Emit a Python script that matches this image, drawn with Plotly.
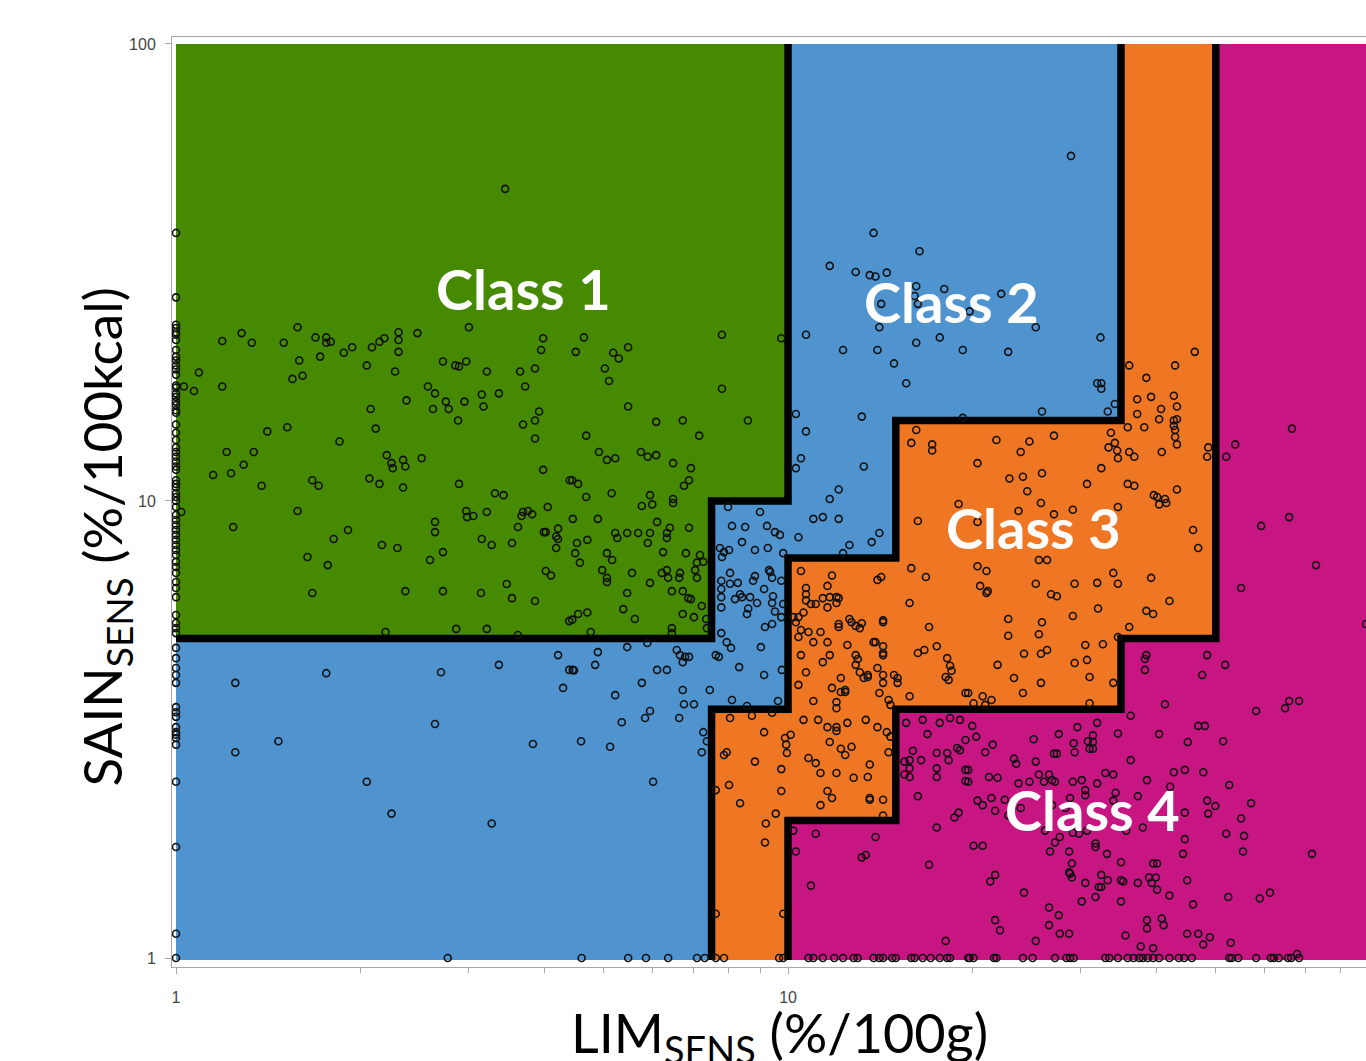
import math
import plotly.graph_objects as go

# ---------------- data ----------------
# class boundaries (LIM in %/100g, SAIN in %/100kcal)
green_x = [1, 7.5, 7.5, 10, 10, 1]
green_y = [5, 5, 10, 10, 100, 100]
blue_x = [1, 7.5, 7.5, 10, 10, 15, 15, 35, 35, 10, 10, 7.5, 7.5, 1]
blue_y = [0.99, 0.99, 3.5, 3.5, 7.5, 7.5, 15, 15, 100, 100, 10, 10, 5, 5]
orange_x = [7.5, 10, 10, 15, 15, 35, 35, 50, 50, 35, 35, 15, 15, 10, 10, 7.5]
orange_y = [0.99, 0.99, 2, 2, 3.5, 3.5, 5, 5, 100, 100, 15, 15, 7.5, 7.5, 3.5, 3.5]
magenta_x = [10, 100, 100, 50, 50, 35, 35, 15, 15, 10]
magenta_y = [0.99, 0.99, 100, 100, 5, 5, 3.5, 3.5, 2, 2]

line1_x = [1, 7.5, 7.5, 10, 10]
line1_y = [5, 5, 10, 10, 100]
line2_x = [7.5, 7.5, 10, 10, 15, 15, 35, 35]
line2_y = [0.99, 3.5, 3.5, 7.5, 7.5, 15, 15, 100]
line3_x = [10, 10, 15, 15, 35, 35, 50, 50]
line3_y = [0.99, 2, 2, 3.5, 3.5, 5, 5, 100]

# products at LIM = 1 (left edge)
edge_y = [38.6, 27.9, 24.3, 23.9, 23.4, 23.1, 22.5, 21.4, 20.7, 20.3, 19.8, 19.4, 18.9, 17.9, 17.7,
          17.2, 16.9, 16.5, 16.2, 15.8, 15.6, 14.7, 14.1, 13.6, 13.1, 12.8, 12.5, 12.2, 11.9, 11.7,
          11.1, 10.9, 10.7, 10.4, 10.2, 10.0, 9.70, 9.32, 9.09, 8.86, 8.64, 8.43, 8.22, 8.01, 7.81,
          7.62, 7.36, 7.17, 6.96, 6.65, 6.45, 6.16, 5.63, 5.41, 5.27, 5.14,
          4.77, 4.53, 4.31, 4.16, 4.00, 3.54, 3.45, 3.37, 3.20, 3.12, 3.08, 3.03, 2.93, 2.43, 1.75,
          1.13, 1.0]
edge_x = [1] * len(edge_y)

class1_pts = [
    (3.45, 48.2), (1.03, 17.8), (1.07, 17.4), (1.09, 19.1), (1.19, 22.4), (1.19, 17.8), (1.28, 23.3),
    (1.33, 22.2), (1.15, 11.4), (1.21, 12.8), (1.23, 11.5), (1.29, 12.0), (1.34, 12.8), (1.38, 10.8),
    (1.41, 14.2), (1.50, 22.2), (1.52, 14.5), (1.55, 18.5), (1.58, 24.0), (1.59, 20.3), (1.61, 18.8),
    (1.67, 11.1), (1.71, 10.8), (1.69, 22.8), (1.72, 20.7), (1.76, 22.8), (1.76, 22.2), (1.79, 22.3),
    (1.85, 13.5), (1.88, 21.1), (1.94, 21.7), (2.05, 19.8), (2.07, 11.2), (2.08, 15.9), (2.09, 21.7),
    (2.12, 14.4), (2.15, 10.9), (2.15, 22.3), (2.19, 22.7), (2.21, 12.6), (2.25, 12.1), (2.26, 11.8),
    (2.28, 19.2), (2.31, 23.4), (2.31, 22.5), (2.31, 21.2), (2.35, 12.3), (2.35, 10.7), (2.37, 11.9),
    (2.38, 16.6), (2.48, 23.3), (2.52, 12.4), (2.58, 17.8), (2.63, 15.9), (2.65, 17.2), (2.73, 20.2),
    (2.76, 16.5), (2.79, 15.9), (2.86, 19.8), (2.89, 15.0), (2.90, 19.7), (2.90, 10.9), (2.96, 16.5),
    (2.98, 20.2), (3.01, 24.0), (3.16, 17.1), (3.18, 16.1), (3.22, 19.2), (3.32, 10.4), (3.43, 10.3),
    (3.37, 17.2), (3.65, 19.2), (3.69, 14.7), (3.72, 17.8), (3.86, 19.5), (3.86, 15.0), (3.86, 13.7),
    (3.92, 15.7), (3.95, 21.4), (3.98, 22.7), (3.98, 11.7), (4.40, 11.1),
    (4.64, 22.8), (4.50, 21.2), (5.18, 21.1), (5.29, 20.5), (5.48, 21.7), (5.02, 19.5), (5.10, 18.3),
    (5.48, 16.1), (6.09, 14.9), (6.73, 15.0), (7.16, 13.9), (7.80, 23.1), (7.80, 17.6), (8.60, 15.0),
    (9.75, 22.7), (4.68, 13.9), (4.91, 12.8), (5.06, 12.3), (5.22, 12.4), (5.75, 12.8), (5.90, 12.5),
    (6.09, 12.6), (6.49, 12.1), (6.94, 11.8), (6.89, 11.1), (6.76, 10.8), (4.44, 11.1), (4.54, 10.9),
    (5.15, 10.4), (5.95, 10.3), (4.68, 10.2), (6.49, 10.1),
    (1.02, 9.46), (1.24, 8.77), (1.58, 9.51), (1.64, 7.54), (1.67, 6.29), (1.77, 7.24), (1.81, 8.26),
    (1.91, 8.64), (2.17, 8.01), (2.20, 5.17), (2.30, 7.89), (2.37, 6.35), (2.60, 7.43), (2.65, 9.00),
    (2.65, 8.55), (2.73, 7.73), (2.73, 6.35), (2.87, 5.25), (2.98, 9.51), (2.99, 9.22), (3.06, 9.27),
    (3.16, 8.26), (3.22, 9.46), (3.15, 6.29), (3.22, 5.25), (3.28, 8.01), (3.47, 6.58), (3.54, 8.09),
    (3.54, 6.13), (3.62, 8.77), (3.62, 5.09), (3.67, 9.27), (3.76, 9.51), (3.82, 9.35), (3.69, 9.46),
    (3.86, 6.04), (4.02, 7.03), (4.10, 6.87), (4.05, 9.70), (3.99, 8.55), (4.02, 8.55), (4.18, 8.36),
    (4.21, 8.26), (4.21, 8.70), (4.18, 7.89), (4.39, 5.46),
    (5.77, 9.75), (6.00, 9.83), (6.49, 9.90), (4.45, 9.14), (4.89, 9.14), (5.22, 8.51), (5.26, 8.30),
    (5.46, 8.51), (5.69, 8.51), (5.95, 8.51), (6.11, 9.00), (6.34, 8.51), (6.34, 8.30), (6.41, 8.74),
    (6.89, 8.74), (5.90, 8.09), (4.52, 8.09), (4.49, 7.69), (4.57, 7.33), (4.70, 8.22), (5.06, 7.69),
    (5.16, 7.43), (6.25, 7.73), (6.81, 7.69), (7.18, 7.62), (7.10, 7.33), (7.27, 7.36), (4.97, 7.06),
    (5.56, 6.96), (5.06, 6.79), (5.06, 6.65), (5.95, 6.62), (6.22, 6.96), (6.34, 7.06), (6.37, 6.79),
    (6.66, 6.96), (6.64, 6.79), (7.10, 6.79), (7.05, 7.06), (5.46, 6.29), (6.46, 6.35), (6.73, 6.35),
    (6.87, 6.13), (6.94, 6.10), (7.23, 5.89), (5.38, 5.80), (4.54, 5.66), (4.70, 5.70), (5.62, 5.52),
    (6.73, 5.66), (7.02, 5.57), (4.44, 5.50), (7.35, 5.52), (4.76, 5.17), (6.46, 5.27), (6.46, 5.14),
    (7.37, 5.27),
]

class2_pts = [
    (13.8, 38.6), (16.4, 35.2), (11.7, 32.7), (29.0, 56.9),
    (10.7, 23.1), (12.3, 21.4), (14.0, 21.4), (14.9, 20.0), (15.6, 18.1), (16.2, 22.2), (17.7, 22.8),
    (19.3, 21.4), (14.1, 24.0), (14.2, 27.0), (16.2, 29.5), (16.1, 28.1), (16.3, 27.0), (18.0, 29.1),
    (12.9, 31.7), (13.6, 31.2), (13.9, 31.0), (14.5, 31.6), (10.3, 15.5), (13.2, 15.3), (10.7, 14.2),
    (10.5, 12.4), (10.3, 11.8), (13.3, 11.9), (12.1, 10.6), (11.7, 10.1),
    (22.3, 28.4), (19.8, 26.0), (25.4, 24.0), (32.4, 22.8), (22.9, 21.2), (32.0, 18.1), (32.5, 18.1),
    (32.5, 17.6), (26.0, 15.7), (33.3, 15.7), (34.2, 16.3),
    (1.25, 4.00), (1.76, 4.20), (2.71, 4.22), (3.37, 4.38), (2.65, 3.25), (4.21, 4.60), (4.29, 3.90),
    (4.39, 4.27),
    (7.98, 9.70), (9.00, 9.46), (8.10, 8.82), (8.51, 8.77), (9.24, 8.82), (8.41, 8.13), (7.74, 7.89),
    (7.86, 7.73), (7.80, 7.54), (8.01, 7.81), (8.83, 7.81), (9.27, 7.89), (9.52, 8.55), (9.70, 8.43),
    (10.4, 8.33), (9.82, 7.69), (8.04, 6.96), (8.28, 6.62), (8.04, 6.59), (8.77, 6.69), (8.83, 6.85),
    (9.35, 6.99), (9.42, 6.79), (9.31, 7.06), (9.75, 6.69), (7.78, 6.69), (7.78, 6.42), (9.14, 6.42),
    (7.78, 6.16), (7.78, 5.85), (8.19, 6.10), (8.41, 6.16), (8.35, 6.25), (8.67, 6.16), (8.90, 5.98),
    (8.61, 5.82), (8.57, 5.66), (9.45, 6.19), (9.42, 5.98), (9.52, 5.73), (9.75, 5.57), (9.82, 5.95),
    (9.42, 5.38), (9.17, 5.30), (7.78, 5.14), (7.94, 4.91), (8.07, 4.77), (7.62, 4.60), (7.71, 4.56),
    (8.32, 4.33), (9.03, 4.79), (9.14, 4.16), (9.77, 4.27), (8.10, 3.67), (8.57, 3.56), (9.63, 3.65),
    (4.89, 4.67), (5.46, 4.79), (5.89, 4.89), (4.84, 4.38), (4.45, 4.27), (4.47, 4.26), (6.11, 4.27),
    (6.34, 4.27), (6.58, 4.72), (6.66, 4.60), (6.79, 4.56), (6.89, 4.56), (6.73, 4.44), (5.77, 4.00),
    (5.22, 3.76), (6.73, 3.86), (7.45, 3.86), (6.76, 3.59), (7.02, 3.59), (5.95, 3.47), (5.84, 3.35),
    (5.35, 3.28), (6.64, 3.35),
    (11.0, 9.14), (11.4, 9.22), (12.1, 9.14), (14.1, 8.51), (13.7, 8.13), (12.6, 8.01), (12.3, 7.69),
    (1.25, 2.82), (1.47, 2.98), (2.05, 2.43), (2.25, 2.07), (2.78, 1.0), (3.28, 1.97), (3.83, 2.94),
    (4.59, 2.98), (5.12, 2.90), (6.02, 2.43), (7.23, 2.82), (7.27, 3.12), (7.37, 2.98), (4.60, 1.0),
    (5.48, 1.0), (5.86, 1.0), (6.37, 1.0), (7.10, 1.0), (7.31, 1.0),
]

class3_pts = [
    (16.2, 14.3), (15.9, 13.4), (17.2, 13.3), (17.2, 12.9), (19.3, 15.2),
    (46.2, 21.2), (36.1, 19.8), (42.9, 19.8), (38.5, 18.6), (37.2, 16.7), (39.2, 16.9), (42.7, 17.0),
    (40.7, 15.9), (43.2, 16.1), (37.2, 15.5), (40.4, 15.1), (43.2, 15.1), (42.7, 15.0), (42.7, 14.6),
    (38.2, 14.5), (35.9, 14.5), (42.9, 14.3), (42.9, 13.8), (43.2, 13.3), (40.8, 12.8), (33.7, 14.1),
    (34.2, 13.4), (33.4, 13.1), (34.5, 12.9), (34.6, 12.4), (36.1, 12.8), (36.8, 12.5), (27.2, 13.9),
    (21.9, 13.6), (24.8, 13.5), (24.0, 12.8), (20.4, 12.1), (23.0, 11.2), (24.2, 11.3), (26.0, 11.5),
    (24.6, 10.5), (32.5, 11.8), (30.8, 10.9), (35.9, 10.9), (36.8, 10.8), (43.2, 10.6), (39.6, 10.3),
    (40.1, 10.2), (41.3, 10.1), (48.6, 13.1), (48.4, 12.5),
    (10.5, 7.03), (11.8, 6.87), (11.6, 6.52), (10.7, 6.45), (10.7, 6.25), (10.7, 6.06), (11.4, 6.13),
    (11.7, 6.16), (12.0, 6.16), (12.1, 6.13), (11.6, 5.85), (12.0, 5.98), (10.9, 5.95), (11.1, 5.95),
    (10.2, 5.57), (10.4, 5.57), (10.6, 5.70), (10.3, 5.43), (10.5, 5.22), (10.8, 5.17), (11.3, 5.17),
    (10.4, 5.04), (11.0, 4.91), (11.6, 4.91), (12.1, 5.38), (12.1, 5.30), (12.6, 5.52), (12.7, 5.43),
    (12.9, 5.33), (13.1, 5.27), (13.2, 5.40), (12.5, 4.84), (13.8, 4.91), (13.9, 4.91), (14.3, 4.81),
    (14.3, 4.65), (14.3, 4.60), (14.3, 5.48), (14.3, 5.43), (12.9, 4.60), (13.0, 4.51), (12.9, 4.38),
    (13.1, 4.22), (10.5, 4.60), (10.7, 4.22), (11.4, 4.44), (11.7, 4.60), (13.3, 4.10), (13.5, 4.16),
    (13.5, 4.12), (12.2, 4.10), (14.0, 4.31), (14.3, 4.16), (14.3, 4.00), (14.9, 4.16), (15.1, 4.10),
    (15.1, 4.00), (10.4, 3.96), (11.8, 3.90), (12.2, 3.82), (12.4, 3.82), (12.4, 3.86), (11.0, 3.65),
    (12.0, 3.63), (12.0, 3.52), (14.1, 3.80), (14.6, 3.67), (14.7, 3.58), (15.8, 3.74), (15.8, 5.98),
    (17.0, 5.30), (17.5, 4.81), (16.3, 4.65), (16.7, 4.72), (18.2, 4.53), (18.4, 4.36), (18.5, 4.25),
    (18.1, 4.12), (18.3, 4.06), (19.5, 3.80), (16.3, 9.04), (16.8, 6.82), (15.9, 7.13), (14.0, 6.72),
    (14.2, 6.82), (19.0, 9.85),
    (8.04, 3.35), (8.73, 3.39), (9.42, 3.44), (10.6, 3.32), (11.2, 3.32), (11.6, 3.20), (12.0, 3.20),
    (12.5, 3.27), (13.4, 3.32), (14.0, 3.20),
    (23.8, 9.51), (25.9, 9.90), (27.2, 9.35), (29.2, 9.57), (34.6, 9.70), (40.4, 9.83), (41.5, 9.90),
    (20.4, 9.00), (45.9, 8.64), (46.8, 7.89), (25.7, 7.43), (26.5, 7.43), (20.4, 7.20), (21.1, 7.03),
    (34.0, 6.96), (39.2, 6.79), (20.6, 6.52), (21.1, 6.29), (21.2, 6.35), (25.4, 6.59), (26.9, 6.25),
    (27.5, 6.19), (29.4, 6.59), (32.0, 6.62), (34.6, 6.59), (42.0, 6.04), (32.1, 5.82), (38.5, 5.75),
    (39.5, 5.66), (22.9, 5.52), (26.0, 5.43), (29.2, 5.60), (22.9, 5.07), (25.7, 5.11), (36.1, 5.30),
    (34.6, 5.04), (30.6, 4.84), (32.7, 4.86), (24.3, 4.63), (25.9, 4.63), (26.5, 4.72), (22.0, 4.38),
    (29.4, 4.42), (30.8, 4.49), (23.4, 4.10), (25.9, 4.00), (31.1, 4.12), (34.0, 4.00), (24.2, 3.80),
    (19.7, 3.80), (20.8, 3.74), (21.5, 3.67), (20.1, 3.61), (21.0, 3.58), (31.1, 3.61),
    (7.62, 1.0), (7.86, 1.0), (7.62, 1.25), (9.82, 1.25), (9.67, 1.0), (9.82, 1.0), (7.86, 2.78),
    (7.94, 2.82), (7.62, 2.33), (8.01, 2.39), (8.35, 2.18), (8.83, 2.69), (9.20, 1.97), (9.17, 1.79),
    (9.55, 2.07), (9.75, 2.59), (9.75, 2.32), (9.14, 3.12), (9.89, 3.03), (9.93, 2.93), (9.96, 2.81),
    (10.1, 3.08), (10.8, 2.74), (11.1, 2.67), (11.7, 2.97), (12.2, 2.87), (12.4, 2.78), (12.7, 2.90),
    (12.0, 3.14), (11.3, 2.54), (12.0, 2.54), (12.8, 2.48), (11.6, 2.32), (11.8, 2.24), (11.3, 2.16),
    (13.6, 2.65), (13.5, 2.49), (13.6, 2.24), (13.6, 2.22), (14.3, 2.22), (14.3, 2.05), (14.5, 3.12),
    (14.7, 3.05), (14.6, 2.82),
]

class4_pts = [
    (52.0, 12.5), (53.8, 13.3), (66.6, 14.4),
    (65.9, 9.22), (59.3, 8.82), (72.9, 7.24), (55.0, 6.45), (88.0, 5.38), (38.5, 4.60), (38.3, 4.51),
    (38.3, 4.27), (48.4, 4.60), (51.8, 4.38), (47.5, 4.16), (41.3, 3.59), (65.9, 3.65), (68.4, 3.65),
    (64.9, 3.52), (58.2, 3.47), (36.3, 3.39), (20.0, 3.22), (29.7, 3.20), (32.0, 3.27), (46.8, 3.22),
    (48.0, 3.22),
    (15.6, 3.27), (16.6, 3.32), (17.7, 3.27), (18.4, 3.35), (19.1, 3.32),
    (10.2, 1.90), (10.3, 1.71), (11.1, 1.87), (10.9, 1.44), (13.2, 1.66), (13.4, 1.68), (13.9, 1.84),
    (17.0, 1.60), (18.1, 1.09), (17.5, 1.93), (18.7, 2.03), (19.0, 2.08), (16.3, 2.26), (15.5, 2.69),
    (15.8, 2.71), (15.8, 2.60), (15.8, 2.49), (15.5, 2.52), (16.0, 2.84), (16.5, 2.71), (16.9, 3.09),
    (17.5, 2.81), (18.2, 2.81), (18.3, 2.71), (17.5, 2.60), (17.5, 2.49), (18.9, 2.88), (19.1, 2.85),
    (19.5, 3.00), (19.5, 2.58), (19.5, 2.44),
    (20.3, 3.05), (19.7, 2.58), (19.7, 2.43), (21.6, 2.93), (21.0, 2.82), (25.2, 3.01), (27.7, 3.09),
    (29.3, 2.95), (29.4, 2.82), (30.9, 2.98), (31.5, 3.07), (31.5, 2.97), (31.1, 2.87), (31.5, 2.87),
    (34.6, 3.10), (40.4, 3.09), (45.0, 2.97), (51.4, 2.98), (36.3, 2.71), (23.4, 2.73), (23.6, 2.66),
    (25.4, 2.69), (27.2, 2.80), (27.5, 2.80), (21.3, 2.49), (22.0, 2.48), (23.8, 2.41), (24.8, 2.43),
    (25.7, 2.52), (26.7, 2.52), (27.0, 2.45), (27.3, 2.43), (26.2, 2.43), (29.2, 2.43), (30.2, 2.45),
    (32.0, 2.41), (33.0, 2.54), (34.0, 2.52), (38.6, 2.45), (42.1, 2.37), (42.7, 2.55), (44.5, 2.58),
    (47.7, 2.55), (52.6, 2.39), (20.4, 2.21), (20.8, 2.16), (21.5, 2.24), (22.6, 2.22), (21.8, 2.10),
    (22.9, 2.05), (24.0, 2.13), (27.0, 2.16), (28.4, 2.13), (28.9, 2.24), (30.6, 2.33), (30.6, 2.27),
    (34.0, 2.21), (34.3, 2.30), (37.3, 2.26), (26.3, 1.90), (26.8, 1.71), (27.3, 1.79), (27.8, 1.84),
    (29.2, 1.88), (29.9, 1.87), (30.8, 1.90), (28.8, 1.71), (31.8, 1.78), (31.8, 1.75), (35.7, 1.90),
    (38.0, 1.93), (33.2, 1.69), (35.0, 1.62), (39.5, 1.61), (40.1, 1.61), (38.9, 1.50), (39.9, 1.50),
    (39.3, 1.46), (44.2, 1.69), (44.5, 1.82), (44.5, 2.08), (48.4, 2.21), (49.9, 2.15), (48.6, 2.07),
    (52.0, 1.87), (55.6, 1.85), (55.4, 1.71), (55.0, 2.02), (57.1, 2.18), (71.8, 1.69), (29.1, 1.61),
    (28.9, 1.53), (29.1, 1.50), (28.8, 1.54), (32.5, 1.52), (32.2, 1.43), (32.5, 1.43), (33.3, 1.48),
    (35.0, 1.48), (35.3, 1.47), (30.6, 1.46), (37.3, 1.46), (40.1, 1.41), (42.0, 1.37), (44.9, 1.48),
    (31.8, 1.36), (35.0, 1.33), (30.2, 1.33), (45.9, 1.31), (52.4, 1.36), (59.0, 1.35), (61.3, 1.39),
    (24.3, 1.39), (21.4, 1.47), (21.8, 1.52), (20.1, 1.76), (20.8, 1.76), (26.7, 1.29), (27.7, 1.24),
    (26.7, 1.18), (27.8, 1.13), (28.8, 1.13), (21.8, 1.21), (22.2, 1.15), (25.4, 1.09), (38.6, 1.21),
    (38.6, 1.16), (40.8, 1.22), (41.1, 1.18), (35.6, 1.12), (37.7, 1.06), (39.5, 1.05), (44.9, 1.13),
    (46.8, 1.13), (48.9, 1.11), (47.7, 1.07), (52.9, 1.08), (67.9, 1.02),
]

# products with SAIN = 1 (bottom row) in class 4
bottom_x = [10.8, 11.0, 11.4, 11.9, 12.3, 12.8, 13.0, 13.8, 14.1, 14.3, 14.8, 15.0, 15.9, 16.1, 16.6,
            17.1, 17.7, 18.2, 18.4, 19.7, 19.8, 20.1, 21.7, 21.9, 24.2, 25.1, 27.3, 28.5, 28.9, 29.3,
            33.0, 33.5, 34.6, 35.9, 36.7, 37.5, 38.0, 38.7, 39.5, 40.4, 42.0, 43.5, 44.4, 45.7, 52.6,
            53.1, 54.4, 58.2, 61.5, 62.2, 63.4, 65.6, 66.4, 68.4]
bottom_y = [1.0] * len(bottom_x)

class_labels = ["Class 1", "Class 2", "Class 3", "Class 4"]
label_x = [3.70, 18.5, 25.2, 31.4]
label_y = [29.1, 27.3, 8.73, 2.11]

x_tickvals = [1, 10]
x_ticktext = ["1", "10"]
y_tickvals = [1, 10, 100]
y_ticktext = ["1", "10", "100"]
x_minor = [2, 3, 4, 5, 6, 7, 8, 9, 20, 30, 40, 50, 60, 70, 80]

# ---------------- figure ----------------
GREEN = "#458A00"
BLUE = "#4F93CF"
ORANGE = "#EF7622"
MAGENTA = "#C71682"

fig = go.Figure()
for xs, ys, col in [(green_x, green_y, GREEN), (blue_x, blue_y, BLUE),
                    (orange_x, orange_y, ORANGE), (magenta_x, magenta_y, MAGENTA)]:
    fig.add_trace(go.Scatter(x=xs, y=ys, mode="lines", fill="toself", fillcolor=col,
                             line=dict(width=0, color=col), hoverinfo="skip", showlegend=False))

for xs, ys in [(line1_x, line1_y), (line2_x, line2_y), (line3_x, line3_y)]:
    fig.add_trace(go.Scatter(x=xs, y=ys, mode="lines", line=dict(color="black", width=7.5),
                             hoverinfo="skip", showlegend=False))

all_pts = class1_pts + class2_pts + class3_pts + class4_pts
all_x = edge_x + [p[0] for p in all_pts] + bottom_x
all_y = edge_y + [p[1] for p in all_pts] + bottom_y
fig.add_trace(go.Scatter(x=all_x, y=all_y, mode="markers",
                         marker=dict(symbol="circle-open", size=7, color="#111111",
                                     line=dict(width=1.6)),
                         showlegend=False, hoverinfo="skip"))

annotations = []
for t, lx, ly in zip(class_labels, label_x, label_y):
    annotations.append(dict(x=math.log10(lx), y=math.log10(ly), xref="x", yref="y", text=t,
                            showarrow=False, xanchor="center", yanchor="middle",
                            font=dict(family="Lato", size=56, color="white", weight="bold")))

annotations.append(dict(x=0.509, y=-0.074, xref="paper", yref="paper",
                        text="LIM<sub>SENS</sub> (%/100g)", showarrow=False,
                        xanchor="center", yanchor="middle",
                        font=dict(family="Lato", size=54, color="black")))
annotations.append(dict(x=-0.056, y=0.462, xref="paper", yref="paper",
                        text="SAIN<sub>SENS</sub> (%/100kcal)", showarrow=False, textangle=-90,
                        xanchor="center", yanchor="middle",
                        font=dict(family="Lato", size=53, color="black")))

fig.update_layout(
    width=1366, height=1061,
    margin=dict(l=172, r=0, t=37, b=94),
    paper_bgcolor="white", plot_bgcolor="white",
    showlegend=False,
    annotations=annotations,
    xaxis=dict(type="log", range=[-0.00654, 1.9444], showgrid=False, zeroline=False,
               showline=True, linecolor="#A8A8A8", linewidth=1, mirror=True,
               tickmode="array", tickvals=x_tickvals, ticktext=x_ticktext,
               ticks="outside", ticklen=6, tickcolor="#A8A8A8", ticklabelstandoff=10,
               tickfont=dict(family="Liberation Sans", size=16, color="#444444"),
               minor=dict(tickmode="array", tickvals=x_minor, ticks="outside", ticklen=5,
                          tickcolor="#A8A8A8", showgrid=False)),
    yaxis=dict(type="log", range=[-0.0197, 2.0153], showgrid=False, zeroline=False,
               showline=True, linecolor="#A8A8A8", linewidth=1, mirror=True,
               tickmode="array", tickvals=y_tickvals, ticktext=y_ticktext,
               ticks="outside", ticklen=6, tickcolor="#A8A8A8", ticklabelstandoff=6,
               tickfont=dict(family="Liberation Sans", size=16, color="#444444")),
)

fig.write_html("out.html", config={"displayModeBar": False},
               post_script="document.body.style.margin='0px';")
